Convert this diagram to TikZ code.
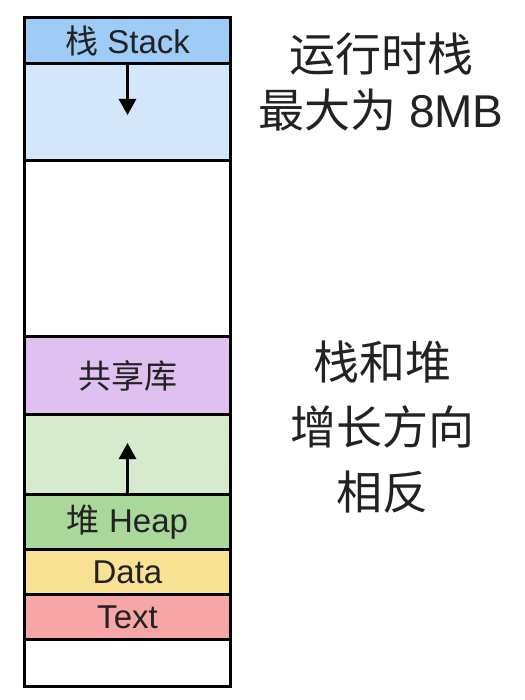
\documentclass[tikz,border=0pt]{standalone}
\usepackage{fontspec}
\setmainfont{Liberation Sans}
\newfontfamily\cjk{Noto Sans CJK SC}
\usetikzlibrary{arrows.meta}
\definecolor{hdrblue}{RGB}{158,204,246}
\definecolor{stkblue}{RGB}{212,230,250}
\definecolor{libpurple}{RGB}{224,192,240}
\definecolor{growgreen}{RGB}{214,234,206}
\definecolor{heapgreen}{RGB}{170,216,154}
\definecolor{datayellow}{RGB}{250,226,148}
\definecolor{textpink}{RGB}{246,166,166}
\definecolor{ink}{RGB}{34,34,34}
\tikzset{
  seg/.style={draw=black, line width=3pt, minimum width=206pt, inner sep=0pt, anchor=north west, text=ink,
    font=\fontsize{33}{38}\selectfont},
  growarrow/.style={line width=3pt, -{Triangle[length=16pt,width=17pt]}},
  side/.style={align=center, text=ink}
}
\begin{document}
\begin{tikzpicture}[x=1pt,y=-1pt]
\useasboundingbox (0,0) rectangle (524,700);
\node[seg, fill=hdrblue, minimum height=46pt] (hdr) at (23,16) {{\cjk 栈} Stack};
\node[seg, fill=stkblue, minimum height=97pt] (stk) at (23,62) {};
\node[seg, fill=white, minimum height=176pt] (free) at (23,159) {};
\node[seg, fill=libpurple, minimum height=78pt] (lib) at (23,335) {\cjk 共享库};
\node[seg, fill=growgreen, minimum height=80pt] (hgrow) at (23,413) {};
\node[seg, fill=heapgreen, minimum height=55pt] (heap) at (23,493) {{\cjk 堆} Heap};
\node[seg, fill=datayellow, minimum height=45pt] (data) at (23,548) {Data};
\node[seg, fill=textpink, minimum height=45pt] (text) at (23,593) {Text};
\node[seg, fill=white, minimum height=47pt] (low) at (23,638) {};
\coordinate (stktip) at ([yshift=-50pt]hdr.south);
\coordinate (heaptip) at ([yshift=50pt]heap.north);
\draw[growarrow] (hdr.south) -- (stktip);
\draw[growarrow] (heap.north) -- (heaptip);
\node[side, font=\fontsize{46}{56}\selectfont] (note1) at (381,82) {{\cjk 运行时栈}\\{\cjk 最大为} 8MB};
\node[side, font=\fontsize{46}{65}\selectfont] (note2) at (382,427) {\cjk 栈和堆\\\cjk 增长方向\\\cjk 相反};
\end{tikzpicture}
\end{document}
